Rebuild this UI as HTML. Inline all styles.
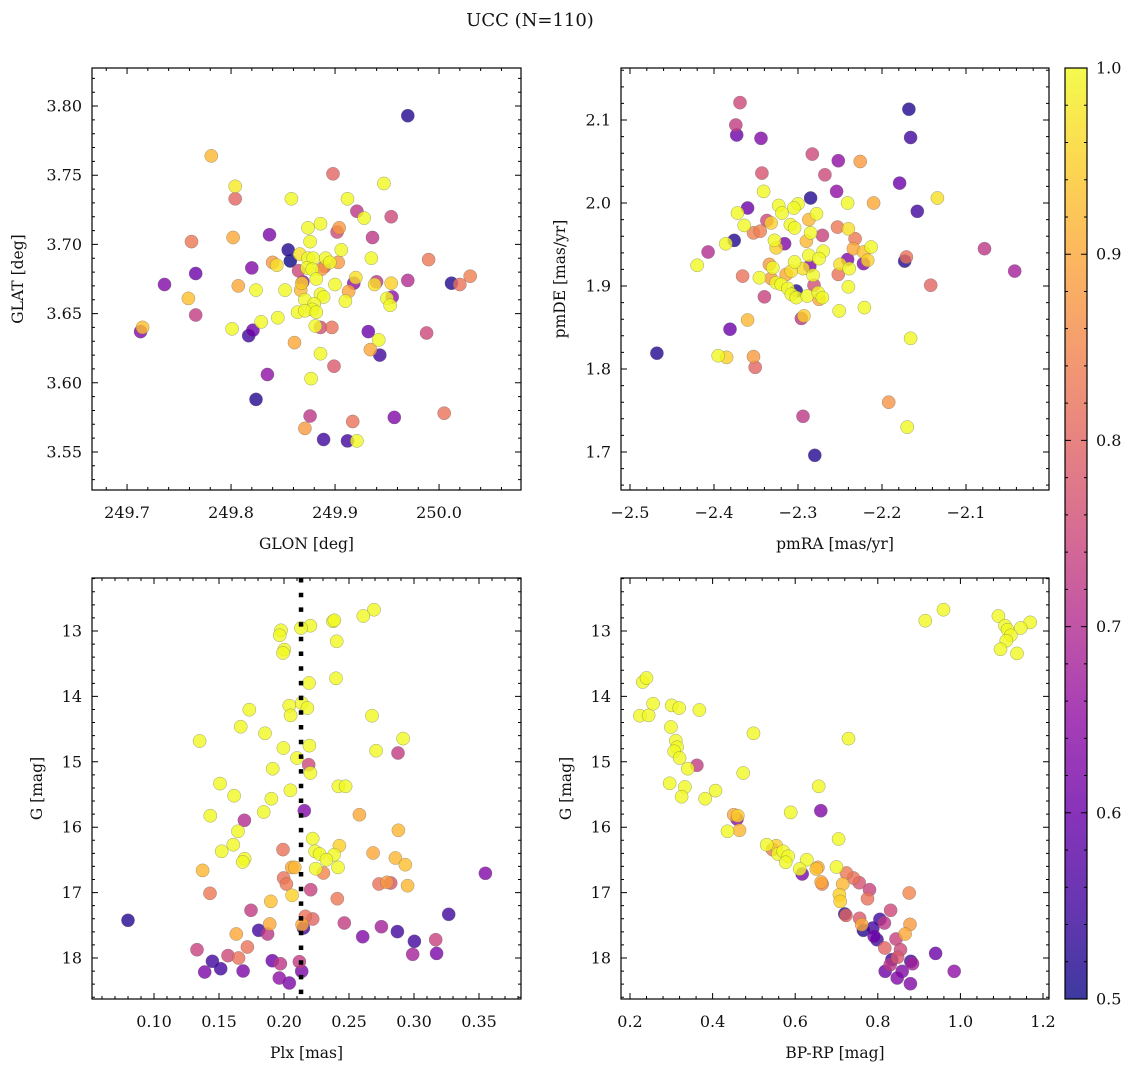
<!DOCTYPE html>
<html><head><meta charset="utf-8"><style>
body{margin:0;background:#fff}
svg text{font-family:"DejaVu Serif","Liberation Serif",serif;fill:#111}
</style></head><body>
<svg id="fig" width="1136" height="1067" viewBox="0 0 1136 1067" xmlns="http://www.w3.org/2000/svg">
<defs><linearGradient id="cbg" x1="0" y1="1" x2="0" y2="0">
<stop offset="0" stop-color="#0d0887"/><stop offset="0.1" stop-color="#41049d"/><stop offset="0.2" stop-color="#6a00a8"/><stop offset="0.3" stop-color="#8f0da4"/><stop offset="0.4" stop-color="#b12a90"/><stop offset="0.5" stop-color="#cc4778"/><stop offset="0.6" stop-color="#e16462"/><stop offset="0.7" stop-color="#f2844b"/><stop offset="0.8" stop-color="#fca636"/><stop offset="0.9" stop-color="#fcce25"/><stop offset="1" stop-color="#f0f921"/></linearGradient></defs>
<text x="530" y="26" font-size="18" text-anchor="middle">UCC (N=110)</text>
</svg>
<script>
// Panel 1: GLON vs GLAT
const glonX=[249.970,249.781,249.898,249.947,249.804,249.804,249.858,249.912,249.921,249.928,249.954,249.874,249.886,249.902,249.904,249.837,249.936,249.762,249.802,249.876,249.855,249.906,249.857,249.866,249.874,249.879,249.891,249.895,249.903,249.935,249.990,249.840,249.844,249.820,249.766,249.865,249.873,249.878,249.887,249.890,249.882,249.869,249.868,249.920,249.918,249.900,249.940,249.938,249.954,249.970,250.012,250.020,250.030,249.736,249.807,249.824,249.852,249.867,249.886,249.889,249.913,249.910,249.955,249.950,249.953,249.759,249.766,249.871,249.880,249.878,249.864,249.871,249.882,249.829,249.845,249.713,249.715,249.801,249.821,249.817,249.886,249.881,249.897,249.932,249.942,249.934,249.943,249.988,249.861,249.886,249.899,249.835,249.877,249.824,249.876,249.871,249.917,249.957,250.005,249.889,249.912,249.921];
const glatY=[3.793,3.764,3.751,3.744,3.742,3.733,3.733,3.733,3.724,3.719,3.720,3.712,3.715,3.709,3.712,3.707,3.705,3.702,3.705,3.702,3.696,3.696,3.688,3.693,3.690,3.690,3.690,3.687,3.687,3.690,3.689,3.687,3.685,3.683,3.679,3.681,3.683,3.682,3.682,3.684,3.675,3.673,3.672,3.676,3.672,3.671,3.673,3.671,3.672,3.674,3.672,3.671,3.677,3.671,3.670,3.667,3.667,3.667,3.664,3.662,3.666,3.659,3.662,3.661,3.656,3.661,3.649,3.660,3.657,3.653,3.651,3.652,3.651,3.644,3.647,3.637,3.640,3.639,3.638,3.634,3.640,3.641,3.640,3.637,3.631,3.624,3.620,3.636,3.629,3.621,3.612,3.606,3.603,3.588,3.576,3.567,3.572,3.575,3.578,3.559,3.558,3.558];
const p1Prob=[0.52,0.92,0.8,1,0.98,0.8,1,1,0.72,1,0.75,1,1,0.75,0.88,0.62,0.72,0.83,0.9,1,0.52,1,0.5,0.97,1,1,1,1,0.88,1,0.83,0.88,0.97,0.63,0.6,0.75,1,1,0.88,0.78,1,0.65,0.95,0.97,0.65,1,0.72,0.97,0.95,0.7,0.52,0.82,0.84,0.63,0.9,1,1,0.92,1,1,0.9,1,0.65,1,1,0.93,0.73,1,1,1,1,1,1,1,1,0.63,0.93,1,0.6,0.55,0.76,1,0.82,0.6,1,0.9,0.55,0.75,0.9,1,0.78,0.65,1,0.52,0.72,0.88,0.82,0.63,0.82,0.55,0.55,1];
// Panel 2: pmRA vs pmDE
const pmraX=[-2.369,-2.374,-2.373,-2.344,-2.168,-2.166,-2.283,-2.252,-2.226,-2.343,-2.268,-2.179,-2.341,-2.254,-2.285,-2.134,-2.241,-2.210,-2.158,-2.360,-2.323,-2.300,-2.305,-2.372,-2.319,-2.278,-2.337,-2.332,-2.287,-2.364,-2.309,-2.304,-2.253,-2.240,-2.353,-2.345,-2.285,-2.271,-2.232,-2.376,-2.386,-2.328,-2.316,-2.290,-2.326,-2.407,-2.234,-2.222,-2.213,-2.270,-2.287,-2.275,-2.420,-2.241,-2.222,-2.217,-2.173,-2.171,-2.078,-2.042,-2.334,-2.330,-2.304,-2.294,-2.286,-2.250,-2.239,-2.366,-2.346,-2.332,-2.314,-2.308,-2.282,-2.252,-2.326,-2.320,-2.302,-2.281,-2.312,-2.308,-2.302,-2.289,-2.276,-2.275,-2.271,-2.240,-2.142,-2.340,-2.251,-2.221,-2.296,-2.293,-2.360,-2.381,-2.166,-2.468,-2.395,-2.385,-2.353,-2.351,-2.192,-2.294,-2.170,-2.280];
const pmdeY=[2.121,2.094,2.082,2.078,2.113,2.079,2.059,2.051,2.050,2.036,2.034,2.024,2.014,2.014,2.006,2.006,2.000,2.000,1.990,1.994,1.997,1.999,1.994,1.988,1.988,1.987,1.979,1.976,1.980,1.973,1.974,1.970,1.971,1.969,1.964,1.966,1.964,1.961,1.957,1.955,1.951,1.955,1.951,1.954,1.946,1.941,1.945,1.941,1.947,1.942,1.937,1.933,1.925,1.932,1.927,1.931,1.930,1.935,1.945,1.918,1.926,1.922,1.929,1.921,1.924,1.926,1.921,1.912,1.910,1.909,1.914,1.918,1.913,1.914,1.904,1.902,1.894,1.901,1.897,1.890,1.886,1.888,1.892,1.884,1.886,1.899,1.901,1.887,1.870,1.874,1.861,1.864,1.859,1.848,1.837,1.819,1.816,1.814,1.815,1.802,1.760,1.743,1.730,1.696];
const p2Prob=[0.75,0.73,0.6,0.63,0.52,0.55,0.75,0.65,0.88,0.77,0.75,0.6,1,0.65,0.52,0.97,1,0.9,0.55,0.6,1,1,1,1,1,1,0.75,0.95,0.92,1,1,1,0.83,0.97,0.84,0.84,1,0.74,0.83,0.52,1,1,0.63,0.92,0.95,0.7,0.9,0.93,1,1,1,1,1,0.63,0.63,0.95,0.52,0.82,0.72,0.68,0.88,1,1,0.97,0.63,0.97,1,0.82,1,0.88,0.9,0.97,1,0.82,1,1,0.52,0.76,1,1,1,1,1,0.9,1,1,0.8,0.74,1,1,0.72,0.95,0.92,0.6,1,0.52,1,0.95,0.88,0.8,0.87,0.72,1,0.52];
// Panel 3: Plx vs G
const plxX=[0.2692,0.2610,0.2377,0.2387,0.2203,0.2131,0.1977,0.1967,0.2405,0.2002,0.1992,0.2192,0.2400,0.2041,0.2136,0.2180,0.2051,0.1733,0.1667,0.2677,0.1854,0.1351,0.2916,0.1995,0.2195,0.2708,0.2877,0.2100,0.2190,0.2203,0.1913,0.1508,0.2418,0.2474,0.2049,0.1616,0.1903,0.1844,0.1433,0.2156,0.2580,0.1695,0.1646,0.2880,0.2221,0.2426,0.1610,0.1521,0.1992,0.2239,0.2274,0.2385,0.2685,0.2857,0.1697,0.1682,0.2326,0.2933,0.2059,0.2082,0.2244,0.2415,0.1374,0.2303,0.3549,0.1997,0.2018,0.2731,0.2792,0.2821,0.2951,0.1431,0.2205,0.2062,0.2410,0.1898,0.1746,0.3267,0.0800,0.2164,0.2221,0.1890,0.2139,0.2149,0.2464,0.2749,0.1805,0.1874,0.1633,0.2872,0.2605,0.3003,0.3167,0.1718,0.1331,0.1569,0.1651,0.1449,0.1910,0.1972,0.2118,0.2990,0.3174,0.1513,0.1390,0.1685,0.2136,0.1964,0.2041];
const plxG=[12.674,12.771,12.852,12.837,12.919,12.954,12.990,13.066,13.158,13.285,13.336,13.795,13.724,14.142,14.101,14.177,14.290,14.203,14.463,14.295,14.565,14.682,14.646,14.789,14.753,14.830,14.865,14.942,15.044,15.171,15.105,15.334,15.375,15.375,15.436,15.518,15.564,15.768,15.824,15.747,15.809,15.895,16.063,16.048,16.175,16.283,16.267,16.369,16.343,16.369,16.410,16.420,16.394,16.471,16.481,16.532,16.497,16.573,16.614,16.614,16.634,16.614,16.660,16.700,16.705,16.777,16.869,16.869,16.843,16.854,16.894,17.011,16.955,17.042,17.093,17.134,17.271,17.332,17.424,17.363,17.404,17.480,17.490,17.541,17.465,17.521,17.577,17.633,17.633,17.597,17.674,17.745,17.720,17.832,17.873,17.964,18.000,18.051,18.041,18.087,18.056,17.944,17.929,18.163,18.214,18.199,18.204,18.306,18.382];
const p3Prob=[1,1,1,1,1,1,1,1,1,1,1,1,1,1,1,1,1,1,1,1,1,1,1,1,1,1,0.73,1,0.75,1,1,1,1,1,1,1,1,1,1,0.63,0.9,0.7,1,0.92,1,0.95,1,1,0.82,1,1,1,0.9,0.92,1,1,1,0.93,0.9,0.92,1,1,0.92,0.85,0.63,0.82,0.83,0.82,0.88,0.77,0.92,0.83,0.74,0.95,0.83,0.93,0.73,0.55,0.52,0.82,0.8,0.9,0.9,0.55,0.73,0.68,0.55,0.72,0.9,0.55,0.63,0.55,0.74,0.82,0.74,0.75,0.82,0.55,0.6,0.72,0.73,0.68,0.62,0.55,0.62,0.62,0.62,0.65,0.62];
const plxRef=0.2131;
// Panel 4: BP-RP vs G
const bprpX=[0.959,0.915,1.092,1.169,1.108,1.114,1.146,1.122,1.111,1.097,1.137,0.231,0.240,0.256,0.224,0.245,0.301,0.319,0.368,0.299,0.311,0.314,0.307,0.320,0.499,0.729,0.362,0.340,0.474,0.296,0.333,0.325,0.382,0.407,0.657,0.589,0.662,0.451,0.459,0.461,0.436,0.465,0.705,0.531,0.545,0.554,0.558,0.571,0.583,0.577,0.628,0.611,0.617,0.655,0.651,0.700,0.724,0.663,0.665,0.741,0.755,0.715,0.780,0.707,0.709,0.775,0.876,0.831,0.720,0.723,0.756,0.761,0.805,0.816,0.878,0.765,0.788,0.791,0.798,0.866,0.844,0.817,0.855,0.848,0.834,0.880,0.884,0.940,0.830,0.818,0.859,0.847,0.879,0.985];
const bprpG=[12.674,12.842,12.771,12.868,12.919,12.980,12.954,13.066,13.148,13.280,13.342,13.780,13.719,14.111,14.295,14.290,14.137,14.177,14.208,14.468,14.677,14.779,14.840,14.942,14.565,14.646,15.054,15.105,15.171,15.329,15.385,15.533,15.564,15.441,15.375,15.773,15.747,15.809,15.875,15.824,16.063,16.048,16.181,16.267,16.343,16.283,16.410,16.369,16.445,16.537,16.497,16.639,16.716,16.614,16.639,16.609,16.700,16.838,16.869,16.777,16.848,16.869,16.955,17.032,17.134,17.093,17.006,17.271,17.327,17.348,17.393,17.490,17.409,17.465,17.486,17.577,17.541,17.669,17.720,17.633,17.710,17.847,17.873,17.990,18.026,18.051,18.087,17.929,18.102,18.204,18.204,18.306,18.393,18.204];
const p4Prob=[1,1,1,1,1,1,1,1,1,1,1,1,1,1,1,1,1,1,1,1,1,1,1,1,1,1,0.73,1,1,1,1,1,1,1,1,1,0.63,0.9,0.65,0.95,1,0.92,1,1,0.83,0.95,1,1,1,1,1,1,0.62,0.9,0.93,1,0.83,0.9,0.85,0.82,0.77,0.92,0.74,0.95,0.95,0.82,0.85,0.75,0.52,0.8,0.78,0.9,0.55,0.72,0.88,0.52,0.55,0.6,0.55,0.9,0.74,0.8,0.75,0.78,0.55,0.55,0.68,0.6,0.72,0.6,0.63,0.63,0.63,0.65];
const cbTicks=[0.5,0.6,0.7,0.8,0.9,1.0];

const NS="http://www.w3.org/2000/svg";
const svg=document.getElementById('fig');
function el(tag,attrs,parent){const e=document.createElementNS(NS,tag);for(const k in attrs)e.setAttribute(k,attrs[k]);(parent||svg).appendChild(e);return e;}
const stops=[[13,8,135],[65,4,157],[106,0,168],[143,13,164],[177,42,144],[204,71,120],[225,100,98],[242,132,75],[252,166,54],[252,206,37],[240,249,33]];
function plasma(p){let t=Math.max(0,Math.min(1,(p-0.5)/0.5))*10;const i=Math.min(9,Math.floor(t)),f=t-i;const a=stops[i],b=stops[i+1];return 'rgb('+a.map((v,k)=>Math.round(v+(b[k]-v)*f)).join(',')+')';}
function fmt(v,d){return (v<0?'\u2212':'')+Math.abs(v).toFixed(d);}

const panels=[
 {name:'glon-glat',x0:92,x1:521,y0:68,y1:490,xd:[249.6663,250.0788],yd:[3.5225,3.8275],xs:[0.1,0.02,1],ys:[0.05,0.01,2],xl:'GLON [deg]',yl:'GLAT [deg]',ylx:23,xv:glonX,yv:glatY,pv:p1Prob,inv:false},
 {name:'pmra-pmde',x0:621,x1:1049,y0:68,y1:490,xd:[-2.5107,-2.0012],yd:[1.6542,2.1627],xs:[0.1,0.02,1],ys:[0.1,0.02,1],xl:'pmRA [mas/yr]',yl:'pmDE [mas/yr]',ylx:565,xv:pmraX,yv:pmdeY,pv:p2Prob,inv:false},
 {name:'plx-g',x0:92,x1:521,y0:578,y1:999,xd:[0.0523,0.3823],yd:[12.1896,18.627],xs:[0.05,0.01,2],ys:[1,0.2,0],xl:'Plx [mas]',yl:'G [mag]',ylx:42,xv:plxX,yv:plxG,pv:p3Prob,inv:true},
 {name:'bprp-g',x0:621,x1:1049,y0:578,y1:999,xd:[0.1782,1.2145],yd:[12.1896,18.627],xs:[0.2,0.04,1],ys:[1,0.2,0],xl:'BP-RP [mag]',yl:'G [mag]',ylx:571,xv:bprpX,yv:bprpG,pv:p4Prob,inv:true}
];
function multiples(d,step){const out=[];const s=Math.ceil(d[0]/step-1e-6),e=Math.floor(d[1]/step+1e-6);for(let k=s;k<=e;k++)out.push(k*step);return out;}

panels.forEach((P,pi)=>{
 const sx=v=>P.x0+(v-P.xd[0])/(P.xd[1]-P.xd[0])*(P.x1-P.x0);
 const sy=P.inv?(v=>P.y0+(v-P.yd[0])/(P.yd[1]-P.yd[0])*(P.y1-P.y0)):(v=>P.y1-(v-P.yd[0])/(P.yd[1]-P.yd[0])*(P.y1-P.y0));
 const g=el('g',{});
 
 
 const pts=el('g',{},g);
 
 
 const idx=P.pv.map((_,i)=>i).sort((a,b)=>P.pv[a]-P.pv[b]);
 idx.forEach(i=>{
  const c=el('circle',{cx:sx(P.xv[i]).toFixed(1),cy:sy(P.yv[i]).toFixed(1),r:6.6,fill:plasma(P.pv[i]),'fill-opacity':0.8,stroke:'#666','stroke-width':0.5,'stroke-opacity':0.6},pts);
  
  
 });
 if(pi===2){
  const ln=el('line',{x1:sx(plxRef),x2:sx(plxRef),y1:P.y0,y2:P.y1,stroke:'#000','stroke-width':4.5,'stroke-dasharray':'4.5 10.2'},g);
  
  
 }
 const fr=el('rect',{x:P.x0,y:P.y0,width:P.x1-P.x0,height:P.y1-P.y0,fill:'none',stroke:'#000','stroke-width':1.2},g);
 
 
 let tp='';
 multiples(P.xd,P.xs[1]).forEach(v=>{const x=sx(v);tp+=`M${x} ${P.y1}v-3M${x} ${P.y0}v3`;});
 multiples(P.yd,P.ys[1]).forEach(v=>{const y=sy(v);tp+=`M${P.x0} ${y}h3M${P.x1} ${y}h-3`;});
 multiples(P.xd,P.xs[0]).forEach(v=>{const x=sx(v);tp+=`M${x} ${P.y1}v-6M${x} ${P.y0}v6`;
  const t=el('text',{x:x,y:P.y1+28,'font-size':16,'text-anchor':'middle'},g);t.textContent=fmt(v,P.xs[2]);
  
  });
 multiples(P.yd,P.ys[0]).forEach(v=>{const y=sy(v);tp+=`M${P.x0} ${y}h6M${P.x1} ${y}h-6`;
  const t=el('text',{x:P.x0-10,y:y+5.5,'font-size':16,'text-anchor':'end'},g);t.textContent=fmt(v,P.ys[2]);
  
  });
 const tk=el('path',{d:tp,stroke:'#000','stroke-width':1,fill:'none'},g);
 
 
 const xt=el('text',{x:(P.x0+P.x1)/2,y:P.y1+59,'font-size':15.5,'text-anchor':'middle'},g);xt.textContent=P.xl;
 
 
 const cy=(P.y0+P.y1)/2;
 const yt=el('text',{x:P.ylx,y:cy,'font-size':15.5,'text-anchor':'middle',transform:`rotate(-90 ${P.ylx} ${cy})`},g);yt.textContent=P.yl;
 
 
});

// colorbar
const cb=el('g',{});


const cbX0=1065,cbX1=1087,cbY0=68,cbY1=999;
const cy=v=>cbY1-(v-0.5)/0.5*(cbY1-cbY0);
el('rect',{x:cbX0,y:cbY0,width:cbX1-cbX0,height:cbY1-cbY0,fill:'url(#cbg)','fill-opacity':0.8},cb);
el('rect',{x:cbX0,y:cbY0,width:cbX1-cbX0,height:cbY1-cbY0,fill:'none',stroke:'#000','stroke-width':1.2},cb);
let cp='';
for(let k=25;k<=50;k++){const v=k/50,y=cy(v);cp+=`M${cbX1} ${y}h-3M${cbX0} ${y}h3`;}
cbTicks.forEach(v=>{const y=cy(v);cp+=`M${cbX1} ${y}h-6M${cbX0} ${y}h6`;
 const t=el('text',{x:cbX1+9,y:y+5.5,'font-size':16},cb);t.textContent=v.toFixed(1);
 
 });
el('path',{d:cp,stroke:'#000','stroke-width':1,fill:'none'},cb);
</script>
</body></html>
